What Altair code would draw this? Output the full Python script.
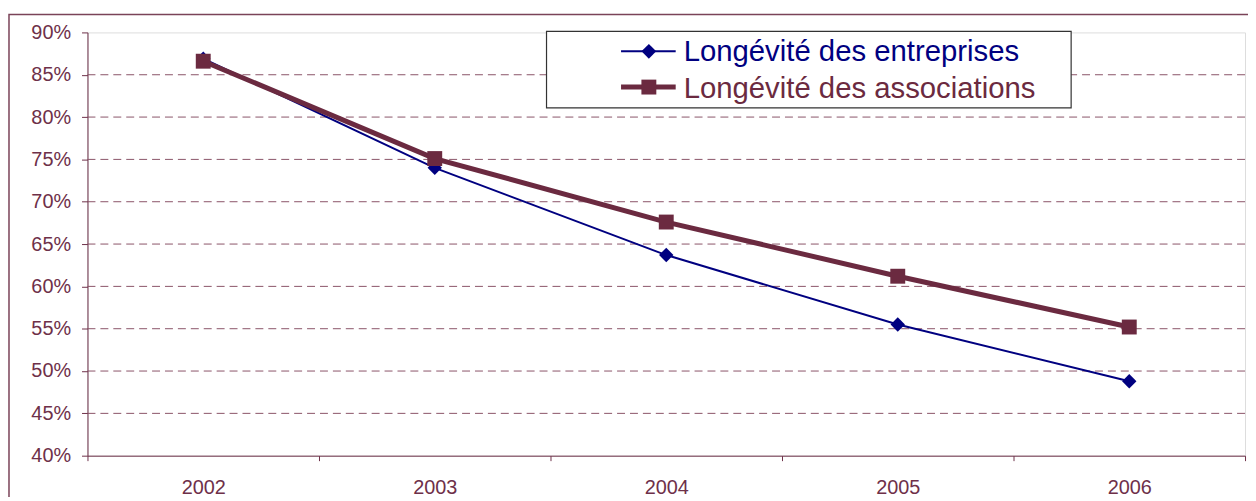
import altair as alt
import pandas as pd

years = ["2002", "2003", "2004", "2005", "2006"]
series_names = ["Longévité des entreprises", "Longévité des associations"]
entreprises = [0.869, 0.740, 0.637, 0.555, 0.488]
associations = [0.866, 0.751, 0.676, 0.612, 0.552]
y_ticks = [0.40, 0.45, 0.50, 0.55, 0.60, 0.65, 0.70, 0.75, 0.80, 0.85, 0.90]
grid_values = [0.45, 0.50, 0.55, 0.60, 0.65, 0.70, 0.75, 0.80, 0.85]

NAVY = "#000080"
MAROON = "#6B2A40"
TEXT = "#6E3049"
AXIS = "#6E3049"
GRID = "#8A5468"
FONT = "Liberation Sans"

df_e = pd.DataFrame({"year": years, "value": entreprises})
df_a = pd.DataFrame({"year": years, "value": associations})
df_grid = pd.DataFrame({"value": grid_values})

x_enc = alt.X(
    "year:O",
    bandPosition=0.5,
    scale=alt.Scale(type="band", domain=years, paddingInner=0, paddingOuter=0),
    axis=alt.Axis(
        title=None, labelAngle=0, tickBand="extent", grid=False,
        domainColor=AXIS, tickColor=AXIS, tickSize=5, labelPadding=17,
        labelColor=TEXT, labelFont=FONT, labelFontSize=20,
    ),
)
y_axis = alt.Axis(
    title=None, values=y_ticks, format=".0%", grid=False,
    domainColor=AXIS, tickColor=AXIS, tickSize=6, labelPadding=11,
    labelColor=TEXT, labelFont=FONT, labelFontSize=20,
)
y_scale = alt.Scale(domain=[0.40, 0.90], nice=False, zero=False)
y_enc = alt.Y("value:Q", scale=y_scale, axis=y_axis)

frame = alt.Chart(pd.DataFrame({"k": [0]})).mark_rect(
    filled=False, stroke="#7A4358", strokeWidth=1.5
).encode(
    x=alt.value(-79), x2=alt.value(1300), y=alt.value(-18), y2=alt.value(560)
)

grid = alt.Chart(df_grid).mark_rule(
    color=GRID, strokeWidth=1, strokeDash=[8, 5]
).encode(y=y_enc)

line_e = alt.Chart(df_e).mark_line(color=NAVY, strokeWidth=2).encode(x=x_enc, y=y_enc)
pts_e = alt.Chart(df_e).mark_point(
    shape="diamond", filled=True, color=NAVY, size=210, opacity=1
).encode(x=x_enc, y=y_enc)
line_a = alt.Chart(df_a).mark_line(color=MAROON, strokeWidth=5).encode(x=x_enc, y=y_enc)
pts_a = alt.Chart(df_a).mark_point(
    shape="square", filled=True, color=MAROON, size=225, opacity=1
).encode(x=x_enc, y=y_enc)

# legend
legend_box = alt.Chart(pd.DataFrame({"k": [0]})).mark_rect(
    fill="white", stroke="#333333", strokeWidth=1.2
).encode(x=alt.value(462), x2=alt.value(990), y=alt.value(-1), y2=alt.value(76))

leg_rows = []
rows = [
    (series_names[0], NAVY, 2, "diamond", 220, 19, 29),
    (series_names[1], MAROON, 5, "square", 225, 55, 66),
]
for name, col, sw, shp, sz, yc, yb in rows:
    d = pd.DataFrame({"label": [name]})
    leg_rows.append(
        alt.Chart(d).mark_rule(color=col, strokeWidth=sw).encode(
            x=alt.value(537), x2=alt.value(592), y=alt.value(yc)
        )
    )
    leg_rows.append(
        alt.Chart(d).mark_point(shape=shp, filled=True, color=col, size=sz, opacity=1).encode(
            x=alt.value(565), y=alt.value(yc)
        )
    )
    leg_rows.append(
        alt.Chart(d).mark_text(
            align="left", baseline="alphabetic", font=FONT, fontSize=29.5, color=col
        ).encode(x=alt.value(600), y=alt.value(yb), text="label:N")
    )

chart = alt.layer(
    frame, grid, line_e, pts_e, line_a, pts_a, legend_box, *leg_rows
).properties(
    width=1165,
    height=426,
    autosize=alt.AutoSizeParams(type="none"),
    padding={"left": 80, "top": 23, "right": 3, "bottom": 40},
).configure_view(strokeWidth=0).configure(background="white")

chart.save("out.html", embed_options={"renderer": "svg", "actions": False})
